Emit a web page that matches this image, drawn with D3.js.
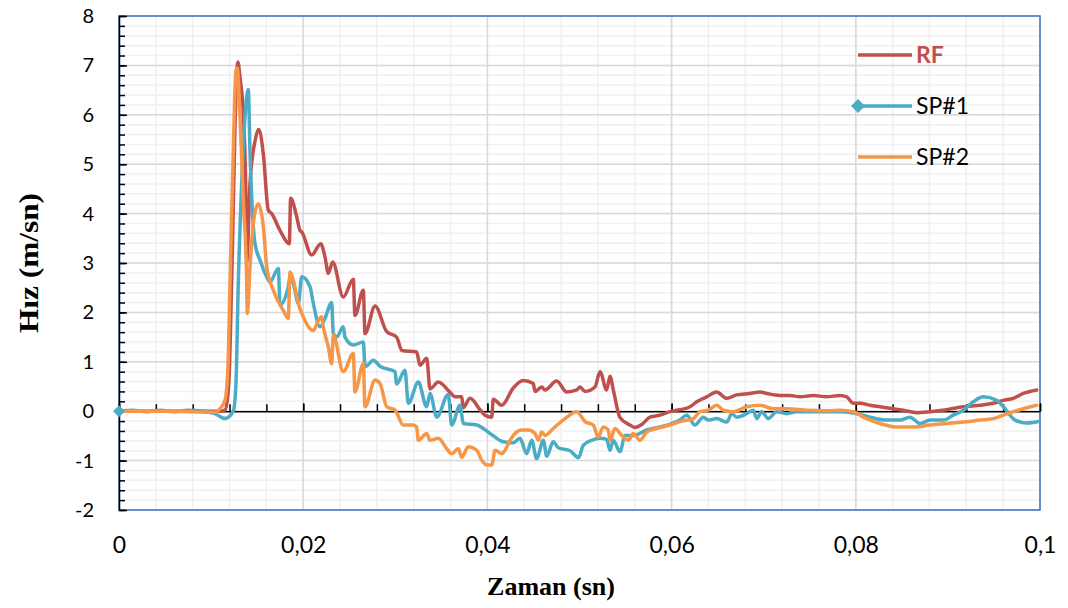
<!DOCTYPE html>
<html>
<head>
<meta charset="utf-8">
<script src="https://cdn.jsdelivr.net/npm/d3@7"></script>
<style>
  body { margin: 0; background: #fff; }
  svg { display: block; }
</style>
</head>
<body>
<div id="chart"></div>
<script>
// series names + colours
var seriesNames = ["RF", "SP#1", "SP#2"];
var seriesColors = ["#C0504D", "#4BACC6", "#F79646"];

// [time (s), velocity (m/s)]
var rfData = [
  [0, 0], [0.005, 0], [0.011, 0], [0.0115, 0.02], [0.0119, 0.5], [0.0123, 3.2], [0.0126, 5.8],
  [0.0129, 7.07], [0.01314, 6.75], [0.0135, 6.0], [0.01375, 4.6], [0.01387, 3.02], [0.01422, 4.6],
  [0.01477, 5.47], [0.01517, 5.70], [0.01567, 5.21], [0.01621, 4.07], [0.01658, 4.0], [0.01748, 3.66],
  [0.01849, 3.39], [0.01864, 4.31], [0.01929, 3.94], [0.01965, 3.66], [0.01984, 3.63], [0.02092, 3.16],
  [0.02190, 3.39], [0.02237, 3.12], [0.02273, 2.79], [0.02320, 3.02], [0.02435, 2.31], [0.02544, 2.67],
  [0.02562, 1.94], [0.02653, 2.45], [0.02671, 1.57], [0.02780, 2.13], [0.02907, 1.61], [0.03015, 1.50],
  [0.03070, 1.23], [0.03232, 1.20], [0.03268, 0.93], [0.03341, 1.07], [0.03377, 0.45], [0.03467, 0.59],
  [0.03594, 0.38], [0.03648, 0.29], [0.03721, 0.29], [0.03738, 0.07], [0.03811, 0.26], [0.03920, 0.03],
  [0.03974, -0.08], [0.04047, -0.12], [0.04064, 0.24], [0.04155, 0.12], [0.04281, 0.47], [0.04389, 0.62],
  [0.04498, 0.56], [0.04517, 0.40], [0.04590, 0.49], [0.04625, 0.43], [0.04752, 0.61], [0.04861, 0.39],
  [0.04970, 0.43], [0.05005, 0.49], [0.05060, 0.40], [0.05168, 0.49], [0.05223, 0.80], [0.05295, 0.43],
  [0.05331, 0.71], [0.05367, 0.43], [0.05440, -0.13], [0.05548, -0.28], [0.05603, -0.33], [0.05675, -0.27],
  [0.05765, -0.12], [0.05874, -0.08], [0.05982, -0.01], [0.06200, 0.09], [0.06273, 0.19], [0.06381, 0.29],
  [0.06490, 0.39], [0.06599, 0.26], [0.06707, 0.33], [0.06851, 0.36], [0.06960, 0.39], [0.07033, 0.36],
  [0.07177, 0.32], [0.07286, 0.32], [0.07394, 0.29], [0.07539, 0.32], [0.07684, 0.29], [0.07828, 0.32],
  [0.07901, 0.29], [0.07973, 0.16], [0.08046, 0.16], [0.08154, 0.12], [0.08263, 0.09], [0.08371, 0.06],
  [0.08516, 0.02], [0.08661, -0.03], [0.08806, -0.01], [0.08987, 0.03], [0.09167, 0.09], [0.09349, 0.12],
  [0.09493, 0.16], [0.09602, 0.22], [0.09710, 0.26], [0.09819, 0.36], [0.09964, 0.43]
];

var sp1Data = [
  [0, 0], [0.0015, 0.02], [0.003, -0.01], [0.0045, 0.02], [0.006, -0.01], [0.0075, 0.02], [0.00879, 0.01],
  [0.0100, -0.03], [0.01042, -0.05], [0.01151, -0.15], [0.01241, 0.0], [0.01270, 0.56], [0.01295, 2.58],
  [0.01332, 4.60], [0.01368, 5.96], [0.01404, 6.51], [0.01422, 5.28], [0.01452, 3.93], [0.01477, 3.39],
  [0.01531, 3.06], [0.01604, 2.72], [0.01640, 2.62], [0.01730, 2.89], [0.01748, 2.15], [0.01838, 2.52],
  [0.01857, 2.72], [0.01893, 2.58], [0.01947, 2.18], [0.01984, 2.72], [0.02074, 2.52], [0.02110, 2.18],
  [0.02182, 1.71], [0.02237, 1.88], [0.02309, 2.20], [0.02327, 1.57], [0.02364, 1.50], [0.02435, 1.71],
  [0.02454, 1.50], [0.02544, 1.34], [0.02653, 1.40], [0.02671, 0.90], [0.02761, 1.03], [0.02834, 0.91],
  [0.02997, 0.80], [0.03015, 0.55], [0.03105, 0.83], [0.03141, 0.16], [0.03250, 0.59], [0.03341, 0.09],
  [0.03377, 0.36], [0.03450, -0.12], [0.03575, 0.34], [0.03612, -0.28], [0.03703, 0.12], [0.03738, -0.25],
  [0.03884, -0.28], [0.04028, -0.45], [0.04173, -0.62], [0.04281, -0.64], [0.04354, -0.55], [0.04426, -0.86],
  [0.04481, -0.59], [0.04535, -0.96], [0.04607, -0.59], [0.04644, -0.91], [0.04715, -0.62], [0.04770, -0.74],
  [0.04897, -0.80], [0.04990, -0.94], [0.05041, -0.69], [0.05132, -0.59], [0.05223, -0.55], [0.05295, -0.57],
  [0.05331, -0.79], [0.05367, -0.59], [0.05440, -0.82], [0.05494, -0.49], [0.05584, -0.49], [0.05730, -0.38],
  [0.05874, -0.32], [0.06001, -0.25], [0.06091, -0.18], [0.06164, -0.08], [0.06254, -0.28], [0.06344, -0.12],
  [0.06398, -0.18], [0.06490, -0.15], [0.06599, -0.22], [0.06653, -0.05], [0.06707, -0.12], [0.06815, -0.05],
  [0.06887, 0.02], [0.06924, -0.15], [0.06978, -0.01], [0.07050, -0.15], [0.07141, -0.01], [0.07250, -0.05],
  [0.07358, -0.01], [0.07539, -0.01], [0.07684, -0.01], [0.07864, -0.01], [0.08010, -0.05], [0.08154, -0.12],
  [0.08336, -0.18], [0.08480, -0.18], [0.08588, -0.12], [0.08697, -0.25], [0.08806, -0.18], [0.08950, -0.18],
  [0.09059, -0.08], [0.09167, 0.02], [0.09276, 0.19], [0.09384, 0.29], [0.09530, 0.22], [0.09602, 0.09],
  [0.09674, -0.08], [0.09729, -0.18], [0.09856, -0.24], [0.09982, -0.21]
];

var sp2Data = [
  [0, 0], [0.005, 0], [0.01042, -0.02], [0.01097, 0.05], [0.01151, 0.22], [0.01183, 0.9], [0.01205, 2.58],
  [0.01241, 5.28], [0.01270, 6.9], [0.01284, 6.94], [0.01314, 5.96], [0.01350, 4.27], [0.01387, 2.58],
  [0.01393, 1.98], [0.01422, 2.92], [0.01458, 3.80], [0.01512, 4.20], [0.01567, 3.74], [0.01604, 2.92],
  [0.01675, 2.45], [0.01784, 2.04], [0.01838, 1.88], [0.01857, 2.82], [0.01893, 2.65], [0.01947, 2.18],
  [0.02001, 1.91], [0.02074, 1.67], [0.02110, 1.63], [0.02164, 1.84], [0.02201, 1.91], [0.02218, 1.71],
  [0.02273, 1.30], [0.02309, 0.96], [0.02327, 1.54], [0.02435, 0.80], [0.02544, 1.17], [0.02562, 0.39],
  [0.02653, 0.96], [0.02671, 0.09], [0.02780, 0.63], [0.02834, 0.56], [0.02907, 0.09], [0.02997, 0.02],
  [0.03087, -0.28], [0.03195, -0.28], [0.03232, -0.32], [0.03250, -0.59], [0.03341, -0.45], [0.03377, -0.59],
  [0.03467, -0.55], [0.03558, -0.76], [0.03612, -0.86], [0.03684, -0.76], [0.03721, -0.93], [0.03793, -0.72],
  [0.03884, -0.79], [0.03938, -0.99], [0.03992, -1.09], [0.04047, -1.09], [0.04083, -0.79], [0.04155, -0.86],
  [0.04191, -0.79], [0.04245, -0.59], [0.04300, -0.45], [0.04372, -0.38], [0.04444, -0.38], [0.04517, -0.45],
  [0.04553, -0.59], [0.04590, -0.42], [0.04625, -0.49], [0.04715, -0.35], [0.04843, -0.15], [0.04970, -0.01],
  [0.05060, -0.21], [0.05150, -0.28], [0.05204, -0.52], [0.05258, -0.32], [0.05312, -0.38], [0.05331, -0.59],
  [0.05385, -0.35], [0.05458, -0.49], [0.05530, -0.59], [0.05584, -0.45], [0.05657, -0.59], [0.05730, -0.42],
  [0.05838, -0.35], [0.05982, -0.28], [0.06091, -0.21], [0.06236, -0.15], [0.06308, -0.01], [0.06398, 0.02],
  [0.06490, 0.12], [0.06562, 0.02], [0.06670, -0.01], [0.06815, 0.09], [0.06960, 0.12], [0.07104, 0.05],
  [0.07250, 0.05], [0.07467, 0.02], [0.07684, 0.01], [0.07828, 0.02], [0.07973, -0.01], [0.08081, -0.12],
  [0.08263, -0.25], [0.08444, -0.32], [0.08624, -0.32], [0.08806, -0.28], [0.08987, -0.25], [0.09167, -0.22],
  [0.09349, -0.18], [0.09493, -0.15], [0.09602, -0.08], [0.09710, -0.01], [0.09819, 0.05], [0.09964, 0.12]
];

// axis ticks
var xTicks = [0, 0.02, 0.04, 0.06, 0.08, 0.1];
var xTickLabels = ["0", "0,02", "0,04", "0,06", "0,08", "0,1"];
var yTicks = [-2, -1, 0, 1, 2, 3, 4, 5, 6, 7, 8];

var width = 1068, height = 608,
    margin = { top: 16, right: 28, bottom: 98, left: 119 },
    innerW = width - margin.left - margin.right,
    innerH = height - margin.top - margin.bottom;

var svg = d3.select("#chart").append("svg")
    .attr("width", width).attr("height", height);
var g = svg.append("g")
    .attr("transform", "translate(" + margin.left + "," + margin.top + ")");

var x = d3.scaleLinear().domain([0, 0.1]).range([0, innerW]);
var y = d3.scaleLinear().domain([-2, 8]).range([innerH, 0]);

var xMinor = d3.range(0, 26).map(function(i) { return i * 0.004; });
var yMinor = d3.range(0, 51).map(function(i) { return -2 + i * 0.2; });

// minor grid
g.append("g").selectAll("line.vminor").data(xMinor).enter().append("line")
    .attr("x1", function(d) { return x(d); }).attr("x2", function(d) { return x(d); })
    .attr("y1", 0).attr("y2", innerH)
    .attr("stroke", "#f0f0f0").attr("stroke-width", 1.5);
g.append("g").selectAll("line.hminor").data(yMinor).enter().append("line")
    .attr("x1", 0).attr("x2", innerW)
    .attr("y1", function(d) { return y(d); }).attr("y2", function(d) { return y(d); })
    .attr("stroke", "#f0f0f0").attr("stroke-width", 1.5);

// major grid
g.append("g").selectAll("line").data(xTicks).enter().append("line")
    .attr("x1", function(d) { return x(d); }).attr("x2", function(d) { return x(d); })
    .attr("y1", 0).attr("y2", innerH)
    .attr("stroke", "#d9d9d9").attr("stroke-width", 1.5);
g.append("g").selectAll("line").data(yTicks).enter().append("line")
    .attr("x1", 0).attr("x2", innerW)
    .attr("y1", function(d) { return y(d); }).attr("y2", function(d) { return y(d); })
    .attr("stroke", "#d9d9d9").attr("stroke-width", 1.5);

// plot border
g.append("rect")
    .attr("width", innerW).attr("height", innerH)
    .attr("fill", "none").attr("stroke", "#4472C4").attr("stroke-width", 1.5);

// y axis (ticks inside)
var yAxisMinor = g.append("g")
    .call(d3.axisLeft(y).tickValues(yMinor).tickSizeInner(-6).tickSizeOuter(0).tickFormat(""));
yAxisMinor.select(".domain").remove();
yAxisMinor.selectAll("line").attr("stroke", "#000").attr("stroke-width", 1.5);

var yAxis = g.append("g")
    .call(d3.axisLeft(y).tickValues(yTicks).tickSizeInner(-8).tickSizeOuter(0).tickPadding(25)
        .tickFormat(function(d) { return String(d); }));
yAxis.select(".domain").attr("stroke", "#000").attr("stroke-width", 1.5);
yAxis.selectAll("line").attr("stroke", "#000").attr("stroke-width", 1.5);
yAxis.selectAll("text")
    .style("font-family", "Lato, 'Open Sans', sans-serif").style("font-size", "20px").attr("fill", "#000");

// x axis line at y = 0 (ticks pointing up)
var xAxisMinor = g.append("g").attr("transform", "translate(0," + y(0) + ")")
    .call(d3.axisBottom(x).tickValues(xMinor).tickSizeInner(-7).tickSizeOuter(0).tickFormat(""));
xAxisMinor.select(".domain").remove();
xAxisMinor.selectAll("line").attr("stroke", "#000").attr("stroke-width", 1.5);

var xAxis = g.append("g").attr("transform", "translate(0," + y(0) + ")")
    .call(d3.axisBottom(x).tickValues(xTicks).tickSizeInner(-8).tickSizeOuter(0).tickFormat(""));
xAxis.select(".domain").attr("stroke", "#000").attr("stroke-width", 1.5);
xAxis.selectAll("line").attr("stroke", "#000").attr("stroke-width", 1.5);

// x tick labels under the plot
var xLabels = g.append("g").attr("transform", "translate(0," + innerH + ")")
    .call(d3.axisBottom(x).tickValues(xTicks).tickSize(0).tickPadding(27)
        .tickFormat(function(d, i) { return xTickLabels[i]; }));
xLabels.select(".domain").remove();
xLabels.selectAll("text")
    .style("font-family", "Lato, 'Open Sans', sans-serif").style("font-size", "23px").attr("fill", "#000");

// series
var line = d3.line()
    .x(function(d) { return x(d[0]); })
    .y(function(d) { return y(d[1]); })
    .curve(d3.curveMonotoneX);

var allData = [rfData, sp1Data, sp2Data];
allData.forEach(function(data, i) {
    g.append("path")
        .datum(data)
        .attr("d", line)
        .attr("fill", "none")
        .attr("stroke", seriesColors[i])
        .attr("stroke-width", 3.5)
        .attr("stroke-linejoin", "round")
        .attr("stroke-linecap", "round");
});

// SP#1 start marker
function diamond(cx, cy, r) {
    return "M" + cx + "," + (cy - r) + "L" + (cx + r) + "," + cy +
        "L" + cx + "," + (cy + r) + "L" + (cx - r) + "," + cy + "Z";
}
g.append("path")
    .attr("d", diamond(x(sp1Data[0][0]), y(sp1Data[0][1]), 6))
    .attr("fill", seriesColors[1]);

// legend
var legend = svg.append("g").attr("transform", "translate(858,55)");
seriesNames.forEach(function(name, i) {
    var row = legend.append("g").attr("transform", "translate(0," + (i * 51) + ")");
    row.append("line")
        .attr("x1", 0).attr("x2", 54).attr("y1", 0).attr("y2", 0)
        .attr("stroke", seriesColors[i]).attr("stroke-width", 3.5);
    if (i === 1) {
        row.append("path").attr("d", diamond(0, 0, 7)).attr("fill", seriesColors[i]);
    }
    row.append("text")
        .attr("x", 58).attr("y", 8)
        .style("font-family", "Lato, 'Open Sans', sans-serif")
        .style("font-size", "23px")
        .style("font-weight", i === 0 ? "bold" : "normal")
        .attr("fill", i === 0 ? seriesColors[0] : "#000")
        .text(name);
});

// axis titles
svg.append("text")
    .attr("x", 551).attr("y", 595)
    .attr("text-anchor", "middle")
    .style("font-family", "'Liberation Serif', 'Times New Roman', serif")
    .style("font-size", "26px").style("font-weight", "bold")
    .text("Zaman (sn)");

svg.append("text")
    .attr("transform", "translate(38," + (margin.top + y(3)) + ") rotate(-90)")
    .attr("text-anchor", "middle")
    .attr("textLength", 140)
    .attr("lengthAdjust", "spacingAndGlyphs")
    .style("font-family", "'Liberation Serif', 'Times New Roman', serif")
    .style("font-size", "27px").style("font-weight", "bold")
    .text("Hız (m/sn)");
</script>
</body>
</html>
